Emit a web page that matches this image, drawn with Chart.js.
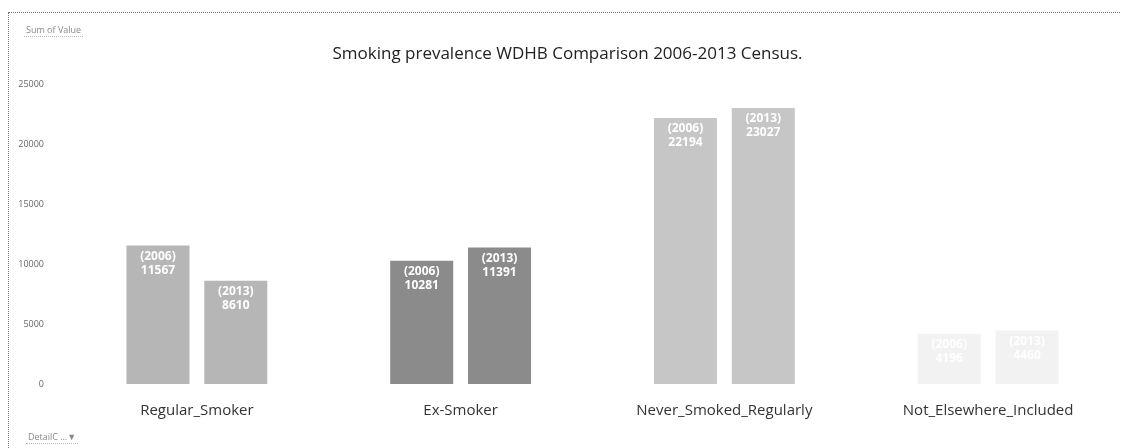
<!DOCTYPE html>
<html>
<head>
<meta charset="utf-8">
<script src="https://cdn.jsdelivr.net/npm/chart.js@4.4.1/dist/chart.umd.min.js"></script>
<style>
  html, body { margin: 0; padding: 0; background: #fff; }
  #wrap { position: relative; width: 1124px; height: 448px; overflow: hidden; }
  #chart { position: absolute; left: 0; top: 0; }
  #frame {
    position: absolute; left: 8px; top: 12px; right: 4px; bottom: -2px;
    border-left: 1px dotted #777; border-top: 1px dotted #777;
  }
  .fieldBtn {
    position: absolute; font: 9px "Open Sans", sans-serif; color: #888;
    border-bottom: 1px dotted #bbb; padding: 0 2px; line-height: 12px;
  }
  #sumBtn { left: 24px; top: 24px; }
  #detailBtn { left: 26px; top: 431px; }
</style>
</head>
<body>
<div id="wrap">
  <canvas id="chart" width="1124" height="448"></canvas>
  <div id="frame"></div>
  <div class="fieldBtn" id="sumBtn">Sum of Value</div>
  <div class="fieldBtn" id="detailBtn">DetailC &#8230;&#9660;</div>
</div>
<script>
// ── Census smoking status, WDHB ─────────────────────────────
const categories = ['Regular_Smoker', 'Ex-Smoker', 'Never_Smoked_Regularly', 'Not_Elsewhere_Included'];
const years      = ['2006', '2013'];
const census2006 = [11567, 10281, 22194, 4196];
const census2013 = [8610, 11391, 23027, 4460];
const yTicks     = [0, 5000, 10000, 15000, 20000, 25000];

// one grey per category, same for both census years
const CAT_COLORS = ['#b6b6b6', '#8b8b8b', '#c6c6c6', '#f2f2f2'];

// two-line "(year) / value" label drawn inside the top of each bar
const barLabels = {
  id: 'barLabels',
  afterDatasetsDraw(chart) {
    const { ctx } = chart;
    ctx.save();
    ctx.fillStyle = '#ffffff';
    ctx.textAlign = 'center';
    ctx.textBaseline = 'middle';
    ctx.font = 'bold 12px "Open Sans", sans-serif';
    chart.data.datasets.forEach((ds, di) => {
      chart.getDatasetMeta(di).data.forEach((bar, i) => {
        ctx.fillText('(' + years[di] + ')', bar.x, bar.y + 11);
        ctx.fillText(String(ds.data[i]), bar.x, bar.y + 25);
      });
    });
    ctx.restore();
  }
};

new Chart(document.getElementById('chart'), {
  type: 'bar',
  data: {
    labels: categories,
    datasets: [
      { label: years[0], data: census2006, backgroundColor: CAT_COLORS, borderWidth: 0 },
      { label: years[1], data: census2013, backgroundColor: CAT_COLORS, borderWidth: 0 },
    ],
  },
  options: {
    responsive: false,
    animation: false,
    events: [],
    categoryPercentage: 0.59,
    barPercentage: 0.81,
    layout: { padding: { left: 15, right: 4, top: 44, bottom: 18 } },
    plugins: {
      legend: { display: false },
      tooltip: { enabled: false },
      title: {
        display: true,
        text: 'Smoking prevalence WDHB Comparison 2006-2013 Census.',
        color: '#222',
        font: { family: 'Open Sans', size: 17, weight: 'normal', lineHeight: 1.2 },
        padding: { top: 0, bottom: 20 },
      },
    },
    scales: {
      x: {
        grid: { display: false },
        border: { display: false },
        ticks: { color: '#333', font: { family: 'Open Sans', size: 15 }, padding: 10 },
      },
      y: {
        min: 0,
        max: 25000,
        afterFit: s => { s.width = 50; },
        afterBuildTicks: s => { s.ticks = yTicks.map(v => ({ value: v })); },
        grid: { display: false },
        border: { display: false },
        ticks: {
          color: '#666',
          font: { family: 'Open Sans', size: 9 },
          padding: 13,
          callback: v => String(v),
        },
      },
    },
  },
  plugins: [barLabels],
});
</script>
</body>
</html>
